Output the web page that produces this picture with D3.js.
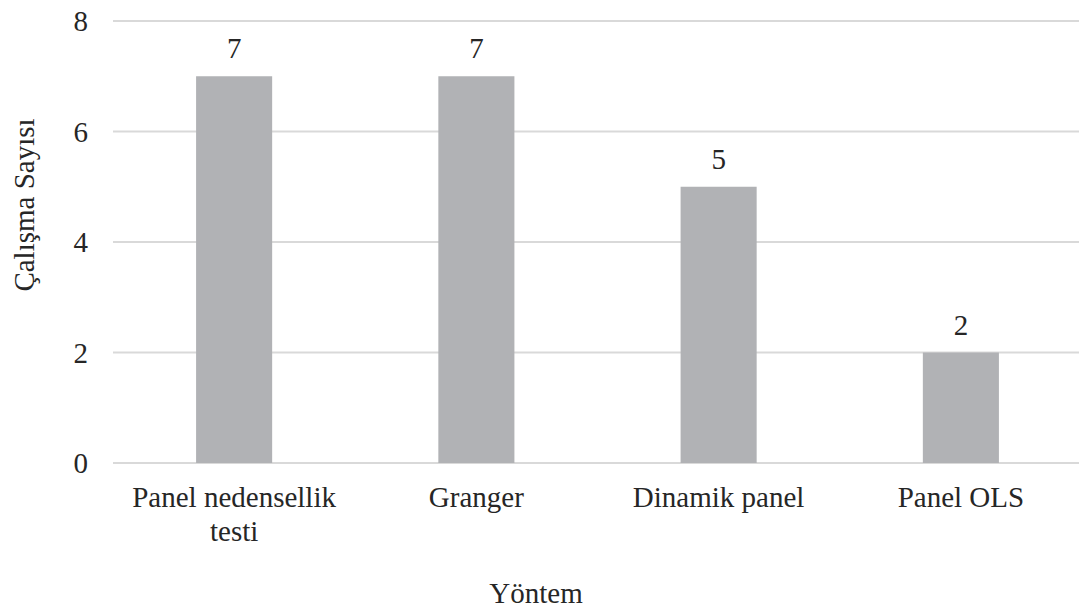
<!DOCTYPE html>
<html>
<head>
<meta charset="utf-8">
<script src="https://cdn.jsdelivr.net/npm/d3@7"></script>
<style>
  html, body { margin: 0; padding: 0; background: #fff; }
  svg { display: block; }
  text { font-family: "Liberation Serif", "Times New Roman", serif; fill: #262626; }
</style>
</head>
<body>
<svg id="chart" width="1079" height="610"></svg>
<script>
const categories = [["Panel nedensellik", "testi"], ["Granger"], ["Dinamik panel"], ["Panel OLS"]];
const values = [7, 7, 5, 2];
const yTicks = [0, 2, 4, 6, 8];
const yTitle = "Çalışma Sayısı";
const xTitle = "Yöntem";

const svg = d3.select("#chart");
const mLeft = 113, mRight = 1082, mTop = 21, mBottom = 463;
const keys = categories.map(c => c.join(" "));

const x = d3.scaleBand().domain(keys).range([mLeft, mRight])
  .paddingInner(0.686).paddingOuter(0.343);
const y = d3.scaleLinear().domain([0, 8]).range([mBottom, mTop]);

// gridlines
svg.append("g").selectAll("line").data(yTicks).join("line")
  .attr("x1", mLeft).attr("x2", 1079)
  .attr("y1", d => y(d)).attr("y2", d => y(d))
  .attr("stroke", "#d9d9d9").attr("stroke-width", 2);

// y tick labels
svg.append("g").selectAll("text").data(yTicks).join("text")
  .attr("x", 88).attr("y", d => y(d)).attr("dy", "0.35em")
  .attr("text-anchor", "end").attr("font-size", 29)
  .text(d => d);

// bars
svg.append("g").selectAll("rect").data(values).join("rect")
  .attr("x", (d, i) => x(keys[i]))
  .attr("width", x.bandwidth())
  .attr("y", d => y(d))
  .attr("height", d => y(0) - y(d))
  .attr("fill", "#b1b2b5");

// value labels
svg.append("g").selectAll("text").data(values).join("text")
  .attr("x", (d, i) => x(keys[i]) + x.bandwidth() / 2)
  .attr("y", d => y(d) - 18)
  .attr("text-anchor", "middle").attr("font-size", 29)
  .text(d => d);

// x category labels
const xl = svg.append("g").selectAll("text").data(categories).join("text")
  .attr("x", (d, i) => x(keys[i]) + x.bandwidth() / 2)
  .attr("y", 507)
  .attr("text-anchor", "middle").attr("font-size", 29);
xl.each(function(d, i) {
  const t = d3.select(this);
  const cx = x(keys[i]) + x.bandwidth() / 2;
  d.forEach((line, j) => {
    t.append("tspan").attr("x", cx).attr("dy", j === 0 ? 0 : 34).text(line);
  });
});

// axis titles
svg.append("text")
  .attr("transform", "translate(34, 205) rotate(-90)")
  .attr("text-anchor", "middle").attr("font-size", 29)
  .text(yTitle);

svg.append("text")
  .attr("x", 536).attr("y", 603)
  .attr("text-anchor", "middle").attr("font-size", 29)
  .text(xTitle);
</script>
</body>
</html>
